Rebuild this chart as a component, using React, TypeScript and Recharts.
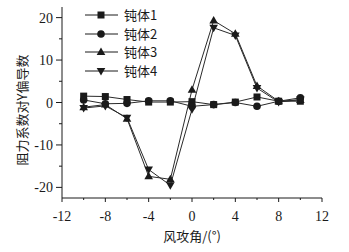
import React from "react";
import { LineChart, Line, XAxis, YAxis, Label } from "recharts";

const angles = [-10, -8, -6, -4, -2, 0, 2, 4, 6, 8, 10];
const body1 = [1.5, 1.4, 0.7, 0.1, 0.1, 0.2, -0.5, 0.1, 1.3, 0.3, 0.3];
const body2 = [0.6, -0.3, -0.2, 0.4, 0.4, -0.9, -0.5, 0, -0.9, 0.3, 1.1];
const body3 = [-1.1, -0.5, -3.8, -17.4, -18.1, 3, 19.3, 16.2, 3.9, 0.3, 0.6];
const body4 = [-1.3, -0.8, -3.6, -15.8, -19.5, -1.6, 17.6, 15.8, 3.4, 0.1, 0.7];

const xTicks = [-12, -10, -8, -6, -4, -2, 0, 2, 4, 6, 8, 10, 12];
const yTicks = [-20, -15, -10, -5, 0, 5, 10, 15, 20];

const seriesNames = ["钝体1", "钝体2", "钝体3", "钝体4"];
const seriesKeys = ["b1", "b2", "b3", "b4"];
const markers = ["square", "circle", "up", "down"];

const rows = angles.map((a, i) => ({
  angle: a,
  b1: body1[i],
  b2: body2[i],
  b3: body3[i],
  b4: body4[i],
}));

const INK = "#1a1a1a";
const NUM_FONT = "'Liberation Serif', 'DejaVu Serif', serif";
const CJK_FONT = "'Noto Sans CJK SC', sans-serif";

function Marker({ kind, cx, cy }: { kind: string; cx: number; cy: number }) {
  if (kind === "square") {
    return <rect x={cx - 3.5} y={cy - 3.5} width={7} height={7} fill={INK} />;
  }
  if (kind === "circle") {
    return <circle cx={cx} cy={cy} r={3.8} fill={INK} />;
  }
  if (kind === "up") {
    return (
      <polygon
        points={`${cx},${cy - 4.5} ${cx + 4.3},${cy + 3} ${cx - 4.3},${cy + 3}`}
        fill={INK}
      />
    );
  }
  return (
    <polygon
      points={`${cx},${cy + 4.5} ${cx + 4.3},${cy - 3} ${cx - 4.3},${cy - 3}`}
      fill={INK}
    />
  );
}

function XTick(props: any) {
  const { x, y, payload } = props;
  const major = payload.value % 4 === 0;
  return (
    <g>
      <line x1={x} x2={x} y1={y} y2={y + (major ? 4 : 2)} stroke={INK} />
      {major && (
        <text
          x={x}
          y={y + 23}
          textAnchor="middle"
          fontFamily={NUM_FONT}
          fontSize={14}
          fill={INK}
        >
          {payload.value}
        </text>
      )}
    </g>
  );
}

function YTick(props: any) {
  const { x, y, payload } = props;
  const major = payload.value % 10 === 0;
  return (
    <g>
      <line x1={x} x2={x - (major ? 6 : 3)} y1={y} y2={y} stroke={INK} />
      {major && (
        <text
          x={x - 9}
          y={y + 5}
          textAnchor="end"
          fontFamily={NUM_FONT}
          fontSize={14}
          fill={INK}
        >
          {payload.value}
        </text>
      )}
    </g>
  );
}

function LegendBox() {
  return (
    <div style={{ position: "absolute", left: 84, top: 6 }}>
      {seriesNames.map((name, i) => (
        <div
          key={name}
          style={{ display: "flex", alignItems: "center", height: 18.5 }}
        >
          <svg width={36} height={14}>
            <line x1={1} x2={34} y1={7} y2={7} stroke={INK} strokeWidth={1} />
            <Marker kind={markers[i]} cx={17} cy={7} />
          </svg>
          <span
            style={{
              fontFamily: CJK_FONT,
              fontSize: 13,
              color: INK,
              marginLeft: 4,
              lineHeight: "14px",
            }}
          >
            {name}
          </span>
        </div>
      ))}
    </div>
  );
}

export default function App() {
  return (
    <div style={{ position: "absolute", left: 0, top: 0, width: 349, height: 252 }}>
      <LineChart
        width={349}
        height={252}
        data={rows}
        margin={{ top: 7, right: 27, bottom: 0, left: 0 }}
      >
        <XAxis
          dataKey="angle"
          type="number"
          domain={[-12, 12]}
          ticks={xTicks}
          interval={0}
          height={54}
          tickSize={0}
          tickMargin={0}
          tickLine={false}
          axisLine={{ stroke: INK }}
          tick={<XTick />}
        >
          <Label
            content={() => (
              <text
                x={192}
                y={241}
                textAnchor="middle"
                fontFamily={CJK_FONT}
                fontSize={13}
                fill={INK}
              >
                风攻角/(°)
              </text>
            )}
          />
        </XAxis>
        <YAxis
          type="number"
          domain={[-22.5, 22.5]}
          ticks={yTicks}
          interval={0}
          width={62}
          tickSize={0}
          tickMargin={0}
          tickLine={false}
          axisLine={{ stroke: INK }}
          tick={<YTick />}
        >
          <Label
            content={() => (
              <text
                x={21}
                y={110}
                textAnchor="middle"
                dominantBaseline="central"
                transform="rotate(-90 21 110)"
                fontFamily={CJK_FONT}
                fontSize={13}
                fill={INK}
              >
                阻力系数对Y偏导数
              </text>
            )}
          />
        </YAxis>
        {seriesKeys.map((k, i) => (
          <Line
            key={k}
            dataKey={k}
            name={seriesNames[i]}
            type="linear"
            stroke="#2a2a2a"
            strokeWidth={1}
            isAnimationActive={false}
            dot={(p: any) => (
              <Marker key={`${k}-${p.index}`} kind={markers[i]} cx={p.cx} cy={p.cy} />
            )}
            activeDot={false}
          />
        ))}
      </LineChart>
      <LegendBox />
    </div>
  );
}
